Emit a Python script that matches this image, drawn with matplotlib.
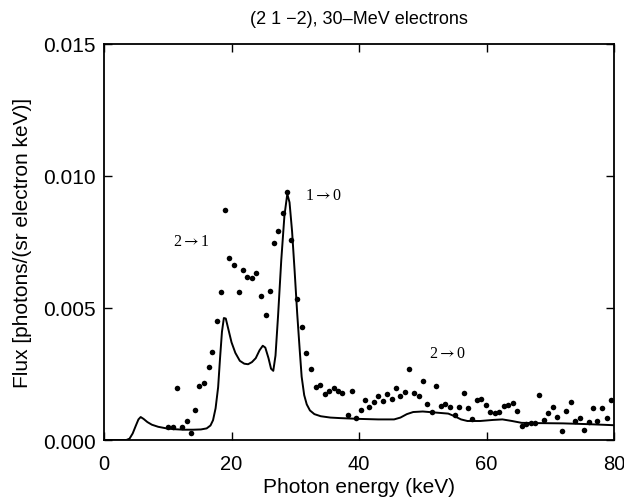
"""Flux spectrum (2 1 -2), 30-MeV electrons: measured points vs calculated curve."""

import matplotlib
matplotlib.use('Agg')
import matplotlib.pyplot as plt

# ===== Data =====
# measured points: photon energy (keV), flux
meas_e = [10.1, 10.8, 11.5, 12.2, 13.0, 13.6, 14.3, 14.95, 15.7, 16.4,
          17.0, 17.7, 18.35, 19.0, 19.6, 20.4, 21.2, 21.75, 22.5, 23.2,
          23.8, 24.6, 25.35, 26.0, 26.6, 27.3, 28.0, 28.75, 29.4, 30.25,
          31.0, 31.7, 32.45, 33.2, 33.9, 34.6, 35.25, 36.0, 36.7, 37.4,
          38.2, 38.85, 39.55, 40.3, 40.9, 41.6, 42.3, 43.0, 43.7, 44.4,
          45.1, 45.8, 46.5, 47.2, 47.9, 48.6, 49.4, 50.0, 50.7, 51.5,
          52.1, 52.9, 53.5, 54.3, 55.0, 55.7, 56.4, 57.1, 57.8, 58.5,
          59.1, 59.9, 60.5, 61.3, 62.0, 62.7, 63.4, 64.1, 64.8, 65.5,
          66.2, 66.9, 67.6, 68.3, 69.0, 69.7, 70.4, 71.1, 71.8, 72.5,
          73.2, 73.9, 74.6, 75.3, 76.0, 76.7, 77.4, 78.1, 78.9, 79.5]
meas_flux = [0.00048, 0.00048, 0.00196, 0.0005, 0.00073, 0.00027, 0.00115, 0.00205, 0.00215, 0.00275,
             0.00335, 0.0045, 0.0056, 0.0087, 0.0069, 0.00663, 0.00562, 0.00644, 0.00619, 0.00614,
             0.00634, 0.00547, 0.00473, 0.00563, 0.00746, 0.0079, 0.00861, 0.00938, 0.00758, 0.00535,
             0.00427, 0.00331, 0.00269, 0.00199, 0.0021, 0.00176, 0.00185, 0.00197, 0.00184, 0.00177,
             0.00096, 0.00184, 0.00084, 0.00112, 0.0015, 0.00124, 0.00144, 0.00168, 0.00149, 0.00174,
             0.00155, 0.00198, 0.00165, 0.00183, 0.00268, 0.00178, 0.00165, 0.00222, 0.00136, 0.00107,
             0.00205, 0.00128, 0.00136, 0.00126, 0.00095, 0.00124, 0.00177, 0.0012, 0.0008, 0.00152,
             0.00154, 0.00133, 0.00105, 0.00101, 0.00105, 0.00128, 0.00133, 0.0014, 0.00111, 0.00054,
             0.00061, 0.00063, 0.00063, 0.00172, 0.00077, 0.00101, 0.00125, 0.00088, 0.00033, 0.00111,
             0.00145, 0.00073, 0.00082, 0.00037, 0.00069, 0.0012, 0.00071, 0.0012, 0.00085, 0.0015]

# calculated curve
calc_e = [0, 3.5, 4.0, 4.5, 5.0, 5.4, 5.75, 6.2, 6.8, 7.5,
          8.5, 9.8, 11, 12.5, 14, 15.2, 16.1, 16.7, 17.1, 17.5,
          17.9, 18.2, 18.5, 18.8, 19.1, 19.5, 20.0, 20.6, 21.3, 22.0,
          22.6, 23.2, 23.8, 24.4, 24.9, 25.3, 25.8, 26.2, 26.55, 26.9,
          27.3, 27.8, 28.3, 28.75, 29.1, 29.5, 29.9, 30.3, 30.7, 31.0,
          31.4, 31.8, 32.3, 33.0, 34, 35.5, 37, 40, 43, 45.5,
          46.5, 47.5, 48.5, 50, 52, 54, 55, 56, 57, 59,
          61, 62.5, 64, 65.5, 68, 72, 76, 80]
calc_flux = [0, 0, 0.00005, 0.00025, 0.00055, 0.00078, 0.00087, 0.0008, 0.00068, 0.00058,
             0.0005, 0.00044, 0.00041, 0.00039, 0.00039, 0.0004, 0.00044, 0.00055, 0.00075, 0.0012,
             0.002, 0.0031, 0.0041, 0.00462, 0.0046, 0.0042, 0.0037, 0.0033, 0.003, 0.00289,
             0.00287, 0.00295, 0.0031, 0.0034, 0.00357, 0.0035, 0.0031, 0.0027, 0.00262, 0.0032,
             0.0047, 0.0068, 0.0085, 0.00932, 0.009, 0.0079, 0.0064, 0.0048, 0.0034, 0.0024,
             0.0017, 0.00135, 0.00112, 0.00098, 0.0009, 0.00085, 0.00083, 0.0008, 0.00078, 0.00078,
             0.00085, 0.00098, 0.00106, 0.00108, 0.00104, 0.001, 0.0009, 0.00078, 0.00072, 0.00072,
             0.00076, 0.00078, 0.00072, 0.00065, 0.00064, 0.00063, 0.0006, 0.00056]

# transition labels
trans_labels = ['2$\\rightarrow$1', '1$\\rightarrow$0', '2$\\rightarrow$0']
trans_e = [13.75, 34.4, 53.9]
trans_flux = [0.00755, 0.00928, 0.0033]

x_ticks = [0, 20, 40, 60, 80]
y_ticks = [0.000, 0.005, 0.010, 0.015]

plt.rcParams['font.family'] = ['Liberation Sans', 'DejaVu Sans']
plt.rcParams['mathtext.fontset'] = 'stix'

fig = plt.figure(figsize=(6.24, 5.02), dpi=100)
ax = fig.add_axes([0.1667, 0.1215, 0.8173, 0.7889])

ax.plot(calc_e, calc_flux, color='black', linewidth=1.4)
ax.plot(meas_e, meas_flux, 'o', color='black', markersize=4.0, markeredgewidth=0)

for lab, xe, yf in zip(trans_labels, trans_e, trans_flux):
    ax.text(xe, yf, lab, fontsize=11.5, family=['Liberation Serif', 'DejaVu Serif'],
            ha='center', va='center')

ax.set_xlim(0, 80)
ax.set_ylim(0, 0.015)
ax.set_xticks(x_ticks)
ax.set_yticks(y_ticks)
ax.set_yticklabels([f'{v:.3f}' for v in y_ticks])
ax.tick_params(direction='in', top=True, right=True, length=6, width=1.0, labelsize=15)
ax.tick_params(axis='x', pad=10, labelsize=14.5)
ax.tick_params(axis='y', pad=6)
for sp in ax.spines.values():
    sp.set_linewidth(1.3)

ax.set_xlabel('Photon energy (keV)', fontsize=15, labelpad=3)
ax.set_ylabel('Flux [photons/(sr electron keV)]', fontsize=15, labelpad=8)
ax.set_title('(2 1 \u22122), 30\u2013MeV electrons', fontsize=13, pad=15)

fig.savefig('out.png', dpi=100)
plt.close()
